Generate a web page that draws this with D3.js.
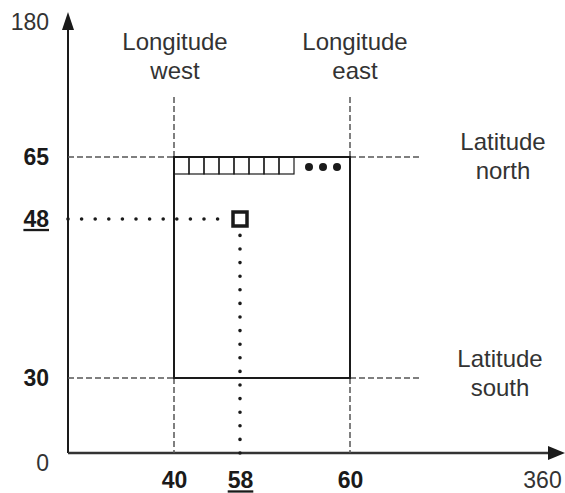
<!DOCTYPE html>
<html>
<head>
<meta charset="utf-8">
<script src="https://cdn.jsdelivr.net/npm/d3@7"></script>
<style>
  body { margin: 0; background: #fff; }
  svg text { font-family: "Liberation Sans", Arial, sans-serif; }
</style>
</head>
<body>
<div id="chart"></div>
<script>
///// Data

let latTicks = [0, 30, 48, 65, 180];
let lonTicks = [40, 58, 60, 360];
let boldTicks = [30, 48, 65, 40, 58, 60];
let underlined = [48, 58];
let latNorth = 65, latSouth = 30;
let lonWest = 40, lonEast = 60;
let point = { lon: 58, lat: 48 };
let gridCells = [1, 2, 3, 4, 5, 6, 7, 8];
let moreDots = [1, 2, 3];

///// Layout

let width = 565, height = 493;

// piecewise scales, the drawing is not to scale
let x = d3.scaleLinear().domain([0, 40, 58, 60, 360]).range([68, 174, 240, 350, 542]);
let y = d3.scaleLinear().domain([0, 30, 48, 65, 180]).range([453, 378, 219, 157, 22]);

let svg = d3.select("#chart").append("svg")
    .attr("width", width)
    .attr("height", height);

let ink = "#1a1a1a", grey = "#555", textGrey = "#333";

// Axes (labels only, lines drawn below with arrows)
let yAxis = svg.append("g")
    .attr("transform", "translate(" + x(0) + ",0)")
    .call(d3.axisLeft(y).tickValues(latTicks).tickSize(0).tickPadding(19));

let xAxis = svg.append("g")
    .attr("transform", "translate(0," + y(0) + ")")
    .call(d3.axisBottom(x).tickValues(lonTicks).tickSize(0).tickPadding(19));

[yAxis, xAxis].forEach(function(g) {
    g.select(".domain").remove();
    g.selectAll("text")
        .attr("font-family", null)
        .style("font-size", "23px")
        .style("font-weight", function(d) { return boldTicks.includes(d) ? "bold" : "normal"; })
        .style("fill", function(d) { return boldTicks.includes(d) ? ink : textGrey; })
        .style("text-decoration", function(d) { return underlined.includes(d) ? "underline" : null; });
});
yAxis.selectAll(".tick").filter(function(d) { return d === 0; })
    .select("text").attr("dy", "0.75em");

// axis lines with arrow heads
svg.append("line")
    .attr("x1", x(0)).attr("y1", y(0))
    .attr("x2", x(0)).attr("y2", 30)
    .attr("stroke", ink).attr("stroke-width", 2);
svg.append("path")
    .attr("d", "M" + (x(0) - 6) + ",30L" + (x(0) + 6) + ",30L" + x(0) + ",12Z")
    .attr("fill", ink);

svg.append("line")
    .attr("x1", x(0)).attr("y1", y(0))
    .attr("x2", 548).attr("y2", y(0))
    .attr("stroke", "#333").attr("stroke-width", 2.5);
svg.append("path")
    .attr("d", "M548," + (y(0) - 7) + "L548," + (y(0) + 7) + "L565," + y(0) + "Z")
    .attr("fill", ink);

// dashed guide lines
let guideTop = 97, guideRight = 422;
let dashed = svg.append("g")
    .attr("stroke", grey)
    .attr("stroke-width", 1.5)
    .attr("stroke-dasharray", "6,3");

[lonWest, lonEast].forEach(function(lon) {
    dashed.append("line")
        .attr("x1", x(lon)).attr("x2", x(lon))
        .attr("y1", guideTop).attr("y2", y(latNorth));
    dashed.append("line")
        .attr("x1", x(lon)).attr("x2", x(lon))
        .attr("y1", y(latSouth)).attr("y2", y(0));
});
[latNorth, latSouth].forEach(function(lat) {
    dashed.append("line")
        .attr("x1", x(0)).attr("x2", x(lonWest))
        .attr("y1", y(lat)).attr("y2", y(lat));
    dashed.append("line")
        .attr("x1", x(lonEast)).attr("x2", guideRight)
        .attr("y1", y(lat)).attr("y2", y(lat));
});

// bounding box
svg.append("rect")
    .attr("x", x(lonWest))
    .attr("y", y(latNorth))
    .attr("width", x(lonEast) - x(lonWest))
    .attr("height", y(latSouth) - y(latNorth))
    .attr("fill", "none")
    .attr("stroke", ink)
    .attr("stroke-width", 2);

// row of cells along the top edge
let cellW = 15, cellH = 17;
svg.append("g").selectAll("rect")
    .data(gridCells)
    .join("rect")
    .attr("x", function(d, i) { return x(lonWest) + i * cellW; })
    .attr("y", y(latNorth))
    .attr("width", cellW)
    .attr("height", cellH)
    .attr("fill", "none")
    .attr("stroke", ink)
    .attr("stroke-width", 1.2);

svg.append("g").selectAll("circle")
    .data(moreDots)
    .join("circle")
    .attr("cx", function(d, i) { return x(lonWest) + gridCells.length * cellW + 15 + i * 14; })
    .attr("cy", y(latNorth) + 10)
    .attr("r", 4)
    .attr("fill", ink);

// dotted lines to the point
let dotted = svg.append("g")
    .attr("stroke", ink)
    .attr("stroke-width", 3.6)
    .attr("stroke-linecap", "round")
    .attr("stroke-dasharray", "0,13.6");

dotted.append("line")
    .attr("x1", x(0)).attr("y1", y(point.lat))
    .attr("x2", x(point.lon) - 18).attr("y2", y(point.lat));
dotted.append("line")
    .attr("x1", x(point.lon)).attr("y1", y(0))
    .attr("x2", x(point.lon)).attr("y2", y(point.lat) + 16);

// the point
svg.append("rect")
    .attr("x", x(point.lon) - 7)
    .attr("y", y(point.lat) - 7)
    .attr("width", 14)
    .attr("height", 14)
    .attr("fill", "#fff")
    .attr("stroke", ink)
    .attr("stroke-width", 3.5);

// labels
function twoLines(cx, baseline, lines) {
    let t = svg.append("text")
        .attr("text-anchor", "middle")
        .style("font-size", "24px")
        .style("fill", textGrey);
    lines.forEach(function(s, i) {
        t.append("tspan")
            .attr("x", cx)
            .attr("y", baseline + i * 29)
            .text(s);
    });
}

twoLines(x(lonWest) + 1, 50, ["Longitude", "west"]);
twoLines(x(lonEast) + 5, 50, ["Longitude", "east"]);
twoLines(503, y(latNorth) - 7, ["Latitude", "north"]);
twoLines(500, y(latSouth) - 11, ["Latitude", "south"]);
</script>
</body>
</html>
